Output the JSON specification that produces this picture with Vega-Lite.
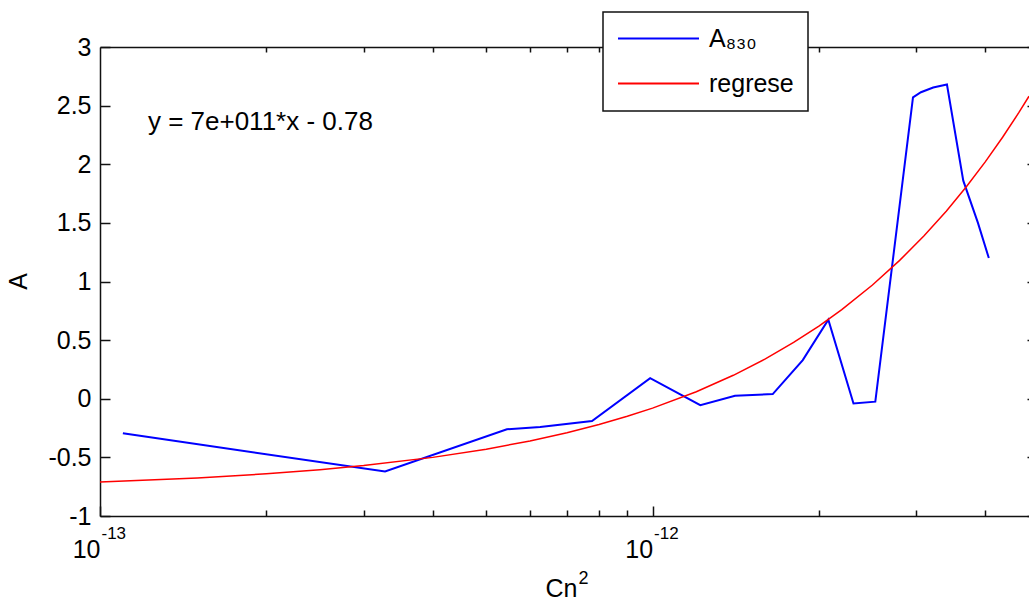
{
  "$schema": "https://vega.github.io/schema/vega-lite/v6.json",
  "width": 929,
  "height": 469,
  "autosize": {"type": "none"},
  "padding": {"left": 100, "top": 47, "right": 0, "bottom": 85},
  "background": "white",
  "config": {
    "view": {"stroke": null},
    "font": "Liberation Sans",
    "axis": {
      "labelFont": "Liberation Sans",
      "labelFontSize": 25,
      "labelColor": "#000",
      "tickColor": "#111",
      "domainColor": "#111",
      "tickWidth": 1.5,
      "domainWidth": 1.5,
      "grid": false,
      "labelFlush": false,
      "labelOverlap": false,
      "titleFont": "Liberation Sans",
      "titleFontSize": 25,
      "titleFontWeight": "normal",
      "titleColor": "#000"
    },
    "legend": {
      "orient": "none",
      "legendX": 503,
      "legendY": -35,
      "strokeColor": "#111",
      "strokeWidth": 1.5,
      "fillColor": "#fff",
      "padding": 14,
      "symbolType": "stroke",
      "symbolSize": 6561,
      "symbolStrokeWidth": 2,
      "labelFont": "Liberation Sans",
      "labelFontSize": 25,
      "labelColor": "#000",
      "labelOffset": 9,
      "clipHeight": 25,
      "rowPadding": 19,
      "labelBaseline": "middle"
    }
  },
  "datasets": {
    "meas": [
      {"cn2": 1.1e-13, "a": -0.295, "series": "A₈₃₀"},
      {"cn2": 3.28e-13, "a": -0.62, "series": "A₈₃₀"},
      {"cn2": 5.45e-13, "a": -0.26, "series": "A₈₃₀"},
      {"cn2": 6.26e-13, "a": -0.24, "series": "A₈₃₀"},
      {"cn2": 7.77e-13, "a": -0.19, "series": "A₈₃₀"},
      {"cn2": 9.9e-13, "a": 0.175, "series": "A₈₃₀"},
      {"cn2": 1.22e-12, "a": -0.055, "series": "A₈₃₀"},
      {"cn2": 1.41e-12, "a": 0.025, "series": "A₈₃₀"},
      {"cn2": 1.65e-12, "a": 0.04, "series": "A₈₃₀"},
      {"cn2": 1.87e-12, "a": 0.33, "series": "A₈₃₀"},
      {"cn2": 2.08e-12, "a": 0.675, "series": "A₈₃₀"},
      {"cn2": 2.31e-12, "a": -0.04, "series": "A₈₃₀"},
      {"cn2": 2.53e-12, "a": -0.025, "series": "A₈₃₀"},
      {"cn2": 2.96e-12, "a": 2.57, "series": "A₈₃₀"},
      {"cn2": 3.06e-12, "a": 2.614, "series": "A₈₃₀"},
      {"cn2": 3.22e-12, "a": 2.655, "series": "A₈₃₀"},
      {"cn2": 3.41e-12, "a": 2.68, "series": "A₈₃₀"},
      {"cn2": 3.65e-12, "a": 1.86, "series": "A₈₃₀"},
      {"cn2": 3.88e-12, "a": 1.5, "series": "A₈₃₀"},
      {"cn2": 4.06e-12, "a": 1.2, "series": "A₈₃₀"}
    ],
    "fit": [
      {"cn2": 1e-13, "a": -0.71, "series": "regrese"},
      {"cn2": 1.5e-13, "a": -0.675, "series": "regrese"},
      {"cn2": 2e-13, "a": -0.64, "series": "regrese"},
      {"cn2": 2.5e-13, "a": -0.605, "series": "regrese"},
      {"cn2": 3e-13, "a": -0.57, "series": "regrese"},
      {"cn2": 4e-13, "a": -0.5, "series": "regrese"},
      {"cn2": 5e-13, "a": -0.43, "series": "regrese"},
      {"cn2": 6e-13, "a": -0.36, "series": "regrese"},
      {"cn2": 7e-13, "a": -0.29, "series": "regrese"},
      {"cn2": 8e-13, "a": -0.22, "series": "regrese"},
      {"cn2": 9e-13, "a": -0.15, "series": "regrese"},
      {"cn2": 1e-12, "a": -0.08, "series": "regrese"},
      {"cn2": 1.2e-12, "a": 0.06, "series": "regrese"},
      {"cn2": 1.4e-12, "a": 0.2, "series": "regrese"},
      {"cn2": 1.6e-12, "a": 0.34, "series": "regrese"},
      {"cn2": 1.8e-12, "a": 0.48, "series": "regrese"},
      {"cn2": 2e-12, "a": 0.62, "series": "regrese"},
      {"cn2": 2.2e-12, "a": 0.76, "series": "regrese"},
      {"cn2": 2.5e-12, "a": 0.97, "series": "regrese"},
      {"cn2": 2.8e-12, "a": 1.18, "series": "regrese"},
      {"cn2": 3.1e-12, "a": 1.39, "series": "regrese"},
      {"cn2": 3.4e-12, "a": 1.6, "series": "regrese"},
      {"cn2": 3.7e-12, "a": 1.81, "series": "regrese"},
      {"cn2": 4e-12, "a": 2.02, "series": "regrese"},
      {"cn2": 4.3e-12, "a": 2.23, "series": "regrese"},
      {"cn2": 4.6e-12, "a": 2.44, "series": "regrese"},
      {"cn2": 4.8e-12, "a": 2.58, "series": "regrese"}
    ],
    "eq": [
      {"cn2": 1.221e-13, "a": 2.29, "label": "y = 7e+011*x - 0.78"}
    ]
  },
  "layer": [
    {
      "data": {"name": "meas"},
      "mark": {"type": "line", "strokeWidth": 2},
      "encoding": {
        "x": {
          "field": "cn2", "type": "quantitative",
          "scale": {"type": "log", "domain": [1e-13, 4.8e-12], "nice": false},
          "axis": {
            "orient": "bottom",
            "values": [1e-13, 1e-12],
            "labelExpr": "'10'",
            "labelAlign": "right",
            "tickSize": -10,
            "labelBaseline": "alphabetic",
            "labelPadding": 51,
            "domain": true,
            "title": "Cn",
            "titleAlign": "left",
            "titleAnchor": "start",
            "titleX": 445,
            "titleBaseline": "alphabetic",
            "titleY": 80
          }
        },
        "y": {
          "field": "a", "type": "quantitative",
          "scale": {"domain": [-1, 3], "nice": false, "zero": false},
          "axis": {
            "orient": "left",
            "values": [-1, -0.5, 0, 0.5, 1, 1.5, 2, 2.5, 3],
            "labelExpr": "'' + datum.value",
            "tickSize": -10,
            "labelPadding": 19,
            "labelBaseline": "middle",
            "domain": true,
            "title": "A",
            "titleAngle": 270,
            "titleX": -82,
            "titleY": 234,
            "titleAlign": "center",
            "titleBaseline": "middle"
          }
        },
        "color": {
          "field": "series", "type": "nominal",
          "scale": {"domain": ["A₈₃₀", "regrese"], "range": ["#0000ff", "#ff0000"]},
          "legend": {"title": null}
        }
      }
    },
    {
      "data": {"name": "fit"},
      "mark": {"type": "line", "strokeWidth": 1.5},
      "encoding": {
        "x": {
          "field": "cn2", "type": "quantitative",
          "scale": {"type": "log", "domain": [1e-13, 4.8e-12], "nice": false},
          "axis": {
            "orient": "bottom",
            "values": [2e-13, 3e-13, 4e-13, 5e-13, 6e-13, 7e-13, 8e-13, 9e-13, 2e-12, 3e-12, 4e-12],
            "tickSize": -6,
            "labels": false,
            "domain": false,
            "title": null
          }
        },
        "y": {
          "field": "a", "type": "quantitative",
          "scale": {"domain": [-1, 3], "nice": false, "zero": false},
          "axis": {
            "orient": "right",
            "values": [-1, -0.5, 0, 0.5, 1, 1.5, 2, 2.5, 3],
            "tickSize": -2,
            "labels": false,
            "domain": false,
            "title": null
          }
        },
        "color": {
          "field": "series", "type": "nominal",
          "scale": {"domain": ["A₈₃₀", "regrese"], "range": ["#0000ff", "#ff0000"]},
          "legend": {"title": null}
        }
      }
    },
    {
      "data": {"name": "eq"},
      "mark": {"type": "text", "align": "left", "baseline": "alphabetic", "fontSize": 26, "font": "Liberation Sans", "color": "#000"},
      "encoding": {
        "x": {
          "field": "cn2", "type": "quantitative",
          "scale": {"type": "log", "domain": [1e-13, 4.8e-12], "nice": false},
          "axis": {
            "orient": "top",
            "values": [2e-13, 3e-13, 4e-13, 5e-13, 6e-13, 7e-13, 8e-13, 9e-13, 1e-12, 2e-12, 3e-12, 4e-12],
            "tickSize": -5,
            "labels": false,
            "domain": true,
            "title": null
          }
        },
        "y": {
          "field": "a", "type": "quantitative",
          "scale": {"domain": [-1, 3], "nice": false, "zero": false},
          "axis": null
        },
        "text": {"field": "label"}
      }
    },
    {
      "data": {"name": "eq"},
      "mark": {"type": "point", "opacity": 0},
      "encoding": {
        "x": {
          "field": "cn2", "type": "quantitative",
          "scale": {"type": "log", "domain": [1e-13, 4.8e-12], "nice": false},
          "axis": {
            "orient": "bottom",
            "values": [1e-13, 1e-12],
            "labelExpr": "datum.value < 5e-13 ? '-13' : '-12'",
            "ticks": false,
            "domain": false,
            "labelAlign": "left",
            "labelOffset": 1,
            "labelBaseline": "alphabetic",
            "labelPadding": 22,
            "labelFontSize": 17,
            "title": "2",
            "titleFontSize": 18,
            "titleAlign": "left",
            "titleAnchor": "start",
            "titleX": 478,
            "titleBaseline": "alphabetic",
            "titleY": 67
          }
        },
        "y": {
          "field": "a", "type": "quantitative",
          "scale": {"domain": [-1, 3], "nice": false, "zero": false},
          "axis": null
        }
      }
    }
  ],
  "resolve": {"axis": {"x": "independent", "y": "independent"}}
}
